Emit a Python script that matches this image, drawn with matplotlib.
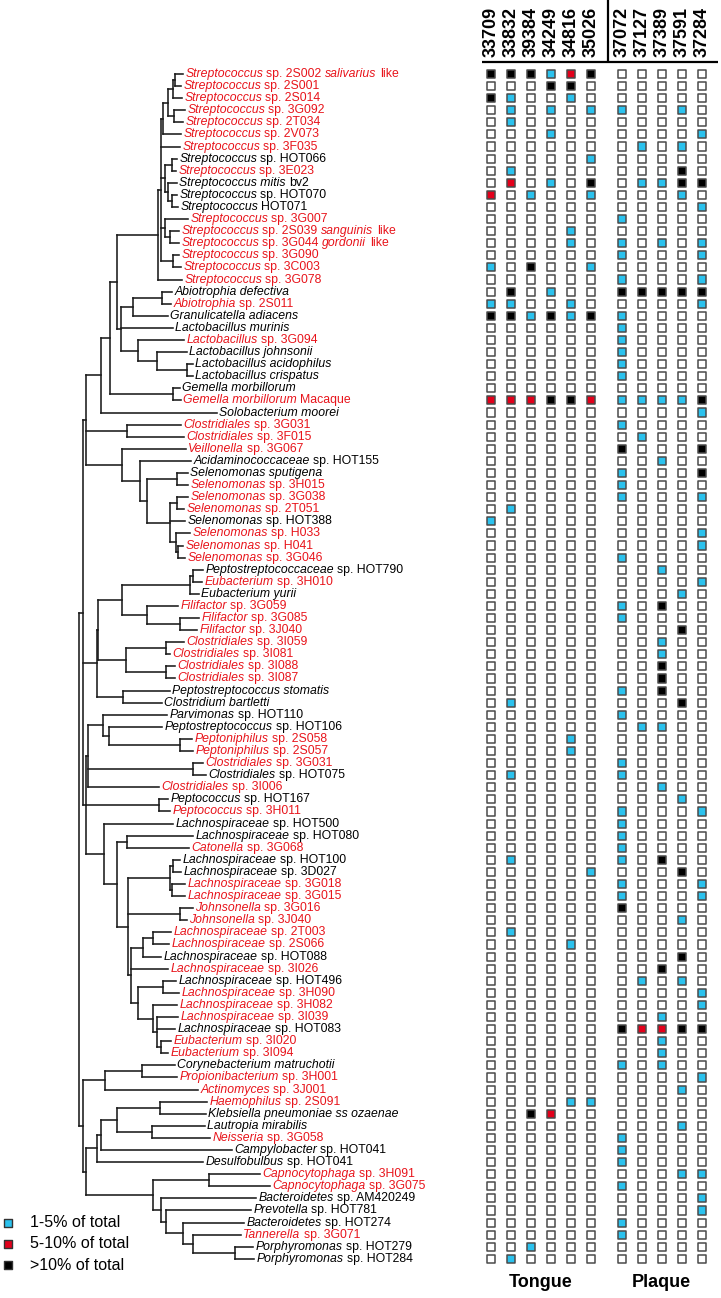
import matplotlib
matplotlib.use("Agg")
import matplotlib.pyplot as plt
from matplotlib.collections import LineCollection

plt.rcParams['font.family'] = ['Liberation Sans', 'DejaVu Sans']

# ---------------- data ----------------
taxa = [
    "*Streptococcus* sp. 2S002 *salivarius* like", "*Streptococcus* sp. 2S001",
    "*Streptococcus* sp. 2S014", "*Streptococcus* sp. 3G092", "*Streptococcus* sp. 2T034",
    "*Streptococcus* sp. 2V073", "*Streptococcus* sp. 3F035", "*Streptococcus* sp. HOT066",
    "*Streptococcus* sp. 3E023", "*Streptococcus mitis* bv2", "*Streptococcus* sp. HOT070",
    "*Streptococcus* HOT071", "*Streptococcus* sp. 3G007",
    "*Streptococcus* sp. 2S039 *sanguinis* like", "*Streptococcus* sp. 3G044 *gordonii* like",
    "*Streptococcus* sp. 3G090", "*Streptococcus* sp. 3C003", "*Streptococcus* sp. 3G078",
    "*Abiotrophia defectiva*", "*Abiotrophia* sp. 2S011", "*Granulicatella adiacens*",
    "*Lactobacillus murinis*", "*Lactobacillus* sp. 3G094", "*Lactobacillus johnsonii*",
    "*Lactobacillus acidophilus*", "*Lactobacillus crispatus*", "*Gemella morbillorum*",
    "*Gemella morbillorum* Macaque", "*Solobacterium moorei*", "*Clostridiales* sp. 3G031",
    "*Clostridiales* sp. 3F015", "*Veillonella* sp. 3G067", "*Acidaminococcaceae* sp. HOT155",
    "*Selenomonas sputigena*", "*Selenomonas* sp. 3H015", "*Selenomonas* sp. 3G038",
    "*Selenomonas* sp. 2T051", "*Selenomonas* sp. HOT388", "*Selenomonas* sp. H033",
    "*Selenomonas* sp. H041", "*Selenomonas* sp. 3G046", "*Peptostreptococcaceae* sp. HOT790",
    "*Eubacterium* sp. 3H010", "*Eubacterium yurii*", "*Filifactor* sp. 3G059",
    "*Filifactor* sp. 3G085", "*Filifactor* sp. 3J040", "*Clostridiales* sp. 3I059",
    "*Clostridiales* sp. 3I081", "*Clostridiales* sp. 3I088", "*Clostridiales* sp. 3I087",
    "*Peptostreptococcus stomatis*", "*Clostridium bartletti*", "*Parvimonas* sp. HOT110",
    "*Peptostreptococcus* sp. HOT106", "*Peptoniphilus* sp. 2S058", "*Peptoniphilus* sp. 2S057",
    "*Clostridiales* sp. 3G031", "*Clostridiales* sp. HOT075", "*Clostridiales* sp. 3I006",
    "*Peptococcus* sp. HOT167", "*Peptococcus* sp. 3H011", "*Lachnospiraceae* sp. HOT500",
    "*Lachnospiraceae* sp. HOT080", "*Catonella* sp. 3G068", "*Lachnospiraceae* sp. HOT100",
    "*Lachnospiraceae* sp. 3D027", "*Lachnospiraceae* sp. 3G018", "*Lachnospiraceae* sp. 3G015",
    "*Johnsonella* sp. 3G016", "*Johnsonella* sp. 3J040", "*Lachnospiraceae* sp. 2T003",
    "*Lachnospiraceae* sp. 2S066", "*Lachnospiraceae* sp. HOT088", "*Lachnospiraceae* sp. 3I026",
    "*Lachnospiraceae* sp. HOT496", "*Lachnospiraceae* sp. 3H090", "*Lachnospiraceae* sp. 3H082",
    "*Lachnospiraceae* sp. 3I039", "*Lachnospiraceae* sp. HOT083", "*Eubacterium* sp. 3I020",
    "*Eubacterium* sp. 3I094", "*Corynebacterium matruchotii*", "*Propionibacterium* sp. 3H001",
    "*Actinomyces* sp. 3J001", "*Haemophilus* sp. 2S091", "*Klebsiella pneumoniae ss ozaenae*",
    "*Lautropia mirabilis*", "*Neisseria* sp. 3G058", "*Campylobacter* sp. HOT041",
    "*Desulfobulbus* sp. HOT041", "*Capnocytophaga* sp. 3H091", "*Capnocytophaga* sp. 3G075",
    "*Bacteroidetes* sp. AM420249", "*Prevotella* sp. HOT781", "*Bacteroidetes* sp. HOT274",
    "*Tannerella* sp. 3G071", "*Porphyromonas* sp. HOT279", "*Porphyromonas* sp. HOT284",
]

# 1 = novel taxon (red label)
novel = [1, 1, 1, 1, 1, 1, 1, 0, 1, 0,
         0, 0, 1, 1, 1, 1, 1, 1, 0, 1,
         0, 0, 1, 0, 0, 0, 0, 1, 0, 1,
         1, 1, 0, 0, 1, 1, 1, 0, 1, 1,
         1, 0, 1, 0, 1, 1, 1, 1, 1, 1,
         1, 0, 0, 0, 0, 1, 1, 1, 0, 1,
         0, 1, 0, 0, 1, 0, 0, 1, 1, 1,
         1, 1, 1, 0, 1, 0, 1, 1, 1, 0,
         1, 1, 0, 1, 1, 1, 0, 0, 1, 0,
         0, 1, 1, 0, 0, 0, 1, 0, 0]

tongue_samples = ["33709", "33832", "39384", "34249", "34816", "35026"]
plaque_samples = ["37072", "37127", "37389", "37591", "37284"]

# abundance class per taxon and sample: W <1%, C 1-5%, R 5-10%, K >10%
tongue_abund = [
    "KKKCRK", "WWWKKW", "KCWWCW", "WCWCWC", "WCWWWW", "WWWCWW", "WWWWWW", "WWWWWC", "WCWWWW", "WRWCWK",
    "RWCWWC", "WWWWWW", "WWWWWW", "WWWWCW", "WWWWCW", "WWWWWW", "CWKWWC", "WWWWWW", "WKWCWW", "CCWWCW",
    "KKCKCK", "WWWWWW", "WWWWWW", "WWWWWW", "WWWWWW", "WWWWWW", "WWWWWW", "RRRKKR", "WWWWWW", "WWWWWW",
    "WWWWWW", "WWWWWW", "WWWWWW", "WWWWWW", "WWWWWW", "WWWWWW", "WCWWWW", "CWWWWW", "WWWWWW", "WWWWWW",
    "WWWWWW", "WWWWWW", "WWWWWW", "WWWWWW", "WWWWWW", "WWWWWW", "WWWWWW", "WWWWWW", "WWWWWW", "WWWWWW",
    "WWWWWW", "WWWWWW", "WCWWWW", "WWWWWW", "WWWWWW", "WWWWCW", "WWWWCW", "WWWWWW", "WCWWWW", "WWWWWW",
    "WWWWWW", "WWWWWW", "WWWWWW", "WWWWWW", "WWWWWW", "WCWWWW", "WWWWWC", "WWWWWW", "WWWWWW", "WWWWWW",
    "WWWWWW", "WCWWWW", "WWWWCW", "WWWWWW", "WWWWWW", "WWWWWW", "WWWWWW", "WWWWWW", "WWWWWW", "WWWWWW",
    "WWWWWW", "WWWWWW", "WWWWWW", "WWWWWW", "WWWWWW", "WWWWCC", "WWKRWW", "WWWWWW", "WWWWWW", "WWWWWW",
    "WWWWWW", "WWWWWW", "WWWWWW", "WWWWWW", "WWWWWW", "WWWWWW", "WWWWWW", "WWCWWW", "WCWWWW",
]
plaque_abund = [
    "WWWWW", "WWWWW", "WWWWW", "CWWCW", "WWWWW", "WWWWC", "WCWCW", "WWWWW", "WWWKW", "WCCKK",
    "WWWCW", "WWWWC", "CWWWW", "WWWWW", "CWCWC", "CWWWC", "WWWWW", "CWWWC", "KKKKK", "WWWWC",
    "CWWWW", "CWWWW", "CWWWW", "CWWWW", "CWWWW", "CWWWW", "WWWWW", "CCCCK", "WWWWC", "CWWWW",
    "WCWWW", "KWWWK", "WWCWW", "CWWWK", "CWWWW", "CWWWC", "WWWWW", "WWWWW", "WWWWC", "WWWWC",
    "CWWWW", "WWCWW", "WWWWC", "WWWCW", "CWKWW", "CWWWW", "WWWKW", "WWCWW", "WWCWW", "WWKWW",
    "WWKWW", "CWKWW", "WWWKW", "CWWWW", "WCCWW", "WWWWW", "WWWWW", "CWWWW", "CWWWW", "WWCWW",
    "WWWCW", "CWWWC", "CWWWW", "CWWWW", "CWWWW", "CWKWW", "WWWKW", "CWWWC", "CWWWC", "KWWWW",
    "WWWCW", "WWWWW", "WWWWW", "WWWKW", "WWKWW", "WCWCW", "WWWWC", "WWWWC", "WWCWW", "KRRKK",
    "WWCWW", "WWCWW", "CWCWW", "WWWWC", "WWWCW", "WWWWW", "WWWWW", "WWWCW", "CWWWW", "CWWWW",
    "CWWWW", "WWWCC", "CWWWW", "WWWWC", "WWWWC", "CWWWW", "CWWWW", "WWWWW", "WWWWW",
]

legend_labels = ["1-5% of total", "5-10% of total", ">10% of total"]
legend_codes = ["C", "R", "K"]
group_labels = ["Tongue", "Plaque"]

# phylogeny (Newick, leaves tN = taxa[N-1], branch lengths)
newick = (
    "("
    "("  # Firmicutes
    "("  # Bacilli / Erysipelotrichia / Negativicutes
    "((("
    "((((((t1:8,t2:6):2,t3:9):5,(t4:11,t5:9):6):5,t6:18):2,t7:19,"
    "((t8:5,t9:4):7,(t10:9,(t11:5,t12:6):4):3):4,(t13:23,(t14:9,t15:9):5):4,"
    "(t16:6,t17:8):12):3,t18:24):41,"
    "(((t19:10,t20:9):29,t21:35):12,t22:52,(t23:46,(t24:30,(t25:6,t26:6):30):19):17):4"
    "):7,(t27:7,t28:8):63):9,t29:116):15,"
    "(t30:54,t31:57):41,"
    "(t32:64,(t33:51,((t34:11,t35:11):30,((t36:11,t37:7):7,t38:15,"
    "(t39:14,(t40:5,t41:7):2):6):23):7):18):36"
    "):3,"
    "(((((t42:10,t43:9):3,t44:9):68,(t45:31,(t46:19,t47:17):33):25):24,"
    "((t48:18,t49:4):40,(t50:9,t51:9):40):28):1,(t52:47,t53:39):26):14,"
    "("
    "((t54:64,(t55:53,(t56:12,t57:13):71):6):15,(t58:10,t59:13):105,t60:71):2,"
    "(t61:9,t62:11):73,"
    "(t63:69,((t64:66,t65:62):10,(((t66:7,t67:8):3,(t68:13,t69:13):2):42,(t70:13,t71:7):52,"
    "(((t72:18,t73:16):10,t74:18):12,t75:37,((t76:13,t77:16):25,"
    "(t78:24,(t79:21,t80:18,(t81:10,t82:7):4):4):15):7):3):11):13):18"
    "):3"
    "):4,"
    "("  # other phyla
    "((t83:33,t84:35):37,t85:93):22,"
    "(((((t86:47,t87:46):43,(t88:53,t89:58):35):16,t90:131):4,t91:106):11,"
    "((t92:51,t93:61):56,(t94:95,(t95:85,(t96:61,(t97:48,(t98:18,t99:19):42):10):17):5):8):67):3"
    "):4"
    ");"
)

# ---------------- helpers ----------------
def parse_newick(s):
    s = "".join(s.split())
    pos = 0

    def node():
        nonlocal pos
        children = []
        if s[pos] == '(':
            pos += 1
            while True:
                children.append(node())
                if s[pos] == ',':
                    pos += 1
                    continue
                if s[pos] == ')':
                    pos += 1
                    break
        start = pos
        while pos < len(s) and s[pos] not in ':,();':
            pos += 1
        name = s[start:pos]
        length = 0.0
        if pos < len(s) and s[pos] == ':':
            pos += 1
            start = pos
            while pos < len(s) and s[pos] not in ',();':
                pos += 1
            length = float(s[start:pos])
        return {'name': name, 'len': length, 'children': children}

    return node()


def layout(n, depth=0.0):
    n['x'] = depth + n['len']
    if not n['children']:
        n['y'] = int(n['name'][1:]) - 1
    else:
        for c in n['children']:
            layout(c, n['x'])
        ys = [c['y'] for c in n['children']]
        n['y'] = 0.5 * (min(ys) + max(ys))


segments = []
leaves = {}


def collect(n):
    if n['children']:
        ys = [c['y'] for c in n['children']]
        segments.append([(n['x'], min(ys)), (n['x'], max(ys))])
        for c in n['children']:
            segments.append([(n['x'], c['y']), (c['x'], c['y'])])
            collect(c)
    else:
        leaves[n['y']] = n['x']


tree = parse_newick(newick)
tree['len'] = 0.0
layout(tree)
collect(tree)

# ---------------- figure ----------------
W, H = 721, 1298
fig = plt.figure(figsize=(W / 100, H / 100), dpi=100)

n = len(taxa)
row_top_px, row_step_px = 74.0, 12.09
ax_top = row_top_px - row_step_px / 2
ax_h = n * row_step_px
ax_bottom = 1 - (ax_top + ax_h) / H

# tree axes (1 depth unit = 1 px)
tree_w = 480
root_px = 79
ax_t = fig.add_axes([0, ax_bottom, tree_w / W, ax_h / H])
ax_t.set_xlim(-root_px, tree_w - root_px)
ax_t.set_ylim(n - 0.5, -0.5)
ax_t.axis('off')
ax_t.add_collection(LineCollection(segments, colors='#1a1a1a', linewidths=1.15,
                                   capstyle='projecting'))

RED = '#E8141B'
FS = 8.8
SPACE = 0.278 * FS


def draw_label(ax, x, y, spec, color):
    parts = spec.split('*')
    prev = None
    pending = False
    for k, p in enumerate(parts):
        if p == '':
            continue
        ital = (k % 2 == 1)
        lead = p.startswith(' ')
        t = p.strip()
        kw = dict(fontsize=FS, color=color, style='italic' if ital else 'normal',
                  ha='left', textcoords='offset points')
        if prev is None:
            prev = ax.annotate(t, xy=(x, y), xytext=(1.6, 0), va='center', **kw)
        else:
            gap = SPACE if (lead or pending) else 0.0
            prev = ax.annotate(t, xy=(1, 0), xycoords=prev, xytext=(gap, 0),
                               va='bottom', **kw)
        pending = p.endswith(' ')


for i, spec in enumerate(taxa):
    draw_label(ax_t, leaves[i], i, spec, RED if novel[i] else 'black')

# abundance grid
grid_left = 478.7
ax_g = fig.add_axes([grid_left / W, ax_bottom, 234 / W, ax_h / H])
ax_g.set_xlim(-0.6, 11.1)
ax_g.set_ylim(n - 0.5, -0.5)
ax_g.axis('off')

cmap = {'W': 'white', 'C': '#2BC2EE', 'R': '#E3001B', 'K': '#000000'}
tongue_x = [float(j) for j in range(len(tongue_samples))]
plaque_x = [len(tongue_samples) + 0.55 + j for j in range(len(plaque_samples))]
xs, ys, cs = [], [], []
for i in range(n):
    for j, code in enumerate(tongue_abund[i]):
        xs.append(tongue_x[j]); ys.append(i); cs.append(cmap[code])
    for j, code in enumerate(plaque_abund[i]):
        xs.append(plaque_x[j]); ys.append(i); cs.append(cmap[code])
ax_g.scatter(xs, ys, marker='s', s=34, c=cs, edgecolors='#4a4a4a', linewidths=1.1,
             clip_on=False, zorder=3)

# headers
hdr_tr = ax_g.get_xaxis_transform()
for x, lab in zip(tongue_x + plaque_x, tongue_samples + plaque_samples):
    ax_g.text(x, 1.0095, lab, rotation=90, ha='center', va='bottom', fontsize=13,
              fontweight='bold', transform=hdr_tr)
ax_g.plot([-0.43, 11.37], [1.0047, 1.0047], transform=hdr_tr, color='black', lw=1.6,
          clip_on=False, solid_capstyle='butt')
sep_x = len(tongue_samples) - 0.13
ax_g.plot([sep_x, sep_x], [1.0047, 1.06], transform=hdr_tr, color='black', lw=1.6,
          clip_on=False, solid_capstyle='butt')

# group labels
ax_g.text(sum(tongue_x) / len(tongue_x), -0.015, group_labels[0], ha='center', va='center',
          fontsize=13, fontweight='bold', transform=hdr_tr)
ax_g.text(sum(plaque_x) / len(plaque_x), -0.015, group_labels[1], ha='center', va='center',
          fontsize=13, fontweight='bold', transform=hdr_tr)

# legend
ax_l = fig.add_axes([0, 0, 160 / W, 100 / H])
ax_l.set_xlim(0, 160)
ax_l.set_ylim(100, 0)
ax_l.axis('off')
leg_y = [24.5, 45.5, 67.0]
for yy, code, lab in zip(leg_y, legend_codes, legend_labels):
    ax_l.scatter([7.5], [yy], marker='s', s=40, c=cmap[code], edgecolors='#333333',
                 linewidths=1.0)
    ax_l.text(30, yy, lab, fontsize=11.5, va='center', ha='left')

fig.savefig('out.png', dpi=100)
